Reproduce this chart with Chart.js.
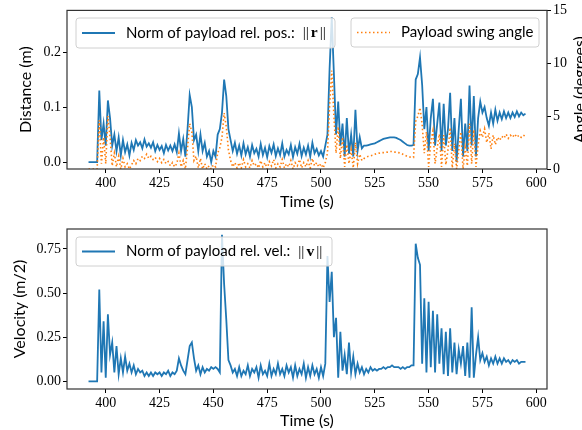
<!DOCTYPE html>
<html>
<head>
<meta charset="utf-8">
<script src="https://cdn.jsdelivr.net/npm/chart.js@4/dist/chart.umd.min.js"></script>
<style>
    html, body { margin: 0; padding: 0; background: #fff; }
    #figure { position: relative; width: 582px; height: 430px; overflow: hidden; background: #fff; }
    #figure canvas { position: absolute; left: 0; }
    #positionChart { top: 0; }
    #velocityChart { top: 215px; }
</style>
</head>
<body>
<div id="figure">
    <canvas id="positionChart" width="596" height="215"></canvas>
    <canvas id="velocityChart" width="596" height="215"></canvas>
</div>
<script>
// Log starts at t = 392 s, one sample per second
const startTime = 392;

// Norm of payload relative position (m)
const payloadDistance = [
    0, 0, 0, 0, 0, 0.13, 0.04, 0.07, 0.03, 0.112,
    0.08, 0.03, 0.05, 0.02, 0.045, 0.012, 0.04, 0.018, 0.032, 0.012,
    0.035, 0.022, 0.04, 0.03, 0.036, 0.025, 0.041, 0.028, 0.034, 0.026,
    0.036, 0.02, 0.031, 0.022, 0.029, 0.016, 0.031, 0.021, 0.03, 0.02,
    0.032, 0.018, 0.052, 0.02, 0.042, 0.01, 0.06, 0.122, 0.10, 0.04,
    0.05, 0.02, 0.05, 0.02, 0.035, 0.01, 0.02, 0.0, 0.02, 0.01,
    0.05, 0.06, 0.09, 0.15, 0.12, 0.06, 0.04, 0.02, 0.035, 0.015,
    0.03, 0.012, 0.034, 0.014, 0.027, 0.01, 0.031, 0.016, 0.024, 0.01,
    0.033, 0.013, 0.026, 0.009, 0.029, 0.017, 0.032, 0.011, 0.025, 0.013,
    0.034, 0.01, 0.022, 0.014, 0.031, 0.009, 0.027, 0.015, 0.033, 0.011,
    0.026, 0.014, 0.03, 0.01, 0.035, 0.016, 0.024, 0.012, 0.02, 0.01,
    0.03, 0.05, 0.17, 0.263, 0.16, 0.05, 0.11, 0.03, 0.07, 0.01,
    0.08, 0.015, 0.05, 0.01, 0.095, 0.02, 0.045, 0.025, 0.03, 0.03,
    0.031, 0.032, 0.033, 0.034, 0.036, 0.038, 0.04, 0.042, 0.043, 0.044,
    0.045, 0.045, 0.045, 0.044, 0.042, 0.04, 0.037, 0.034, 0.031, 0.03,
    0.03, 0.031, 0.15, 0.16, 0.19, 0.14, 0.06, 0.1, 0.02, 0.08,
    0.115, 0.03, 0.07, 0.108, 0.02, 0.106, 0.03, 0.06, 0.126, 0.02,
    0.08, 0.0, 0.06, 0.115, 0.01, 0.07, 0.02, 0.139, 0.03, 0.12,
    0.01, 0.08, 0.11, 0.09, 0.1, 0.08, 0.066, 0.09, 0.07, 0.095,
    0.075, 0.09, 0.078, 0.092, 0.08, 0.09, 0.08, 0.09, 0.082, 0.092,
    0.083, 0.09, 0.085, 0.088
];

// Payload swing angle (degrees)
const swingAngle = [
    0, 0, 0, 0, 0, 4.6, 0.5, 3.0, 0.5, 5.0,
    3.0, 0.3, 1.5, 0.2, 1.2, 0.0, 1.0, 0.2, 0.5, 0.0,
    0.4, 0.8, 0.5, 1.0, 0.8, 1.2, 1.0, 1.4, 1.0, 1.2,
    0.9, 1.1, 0.7, 1.0, 0.6, 0.9, 0.5, 0.7, 0.3, 0.6,
    0.2, 0.5, 1.5, 0.2, 0.8, 0.0, 2.0, 4.3, 3.5, 0.8,
    1.2, 0.1, 1.0, 0.0, 0.5, 0.0, 0.3, 0.0, 0.4, 0.2,
    1.5, 2.0, 3.0, 5.3, 4.0, 1.8, 0.8, 0.2, 0.6, 0.1,
    0.6, 0.1, 0.9, 0.2, 0.5, 0.1, 0.8, 0.3, 0.5, 0.1,
    0.8, 0.2, 0.6, 0.0, 0.7, 0.3, 0.9, 0.1, 0.5, 0.2,
    0.9, 0.1, 0.5, 0.2, 0.8, 0.0, 0.6, 0.3, 0.9, 0.1,
    0.6, 0.2, 0.8, 0.1, 1.0, 0.3, 0.6, 0.2, 0.5, 0.1,
    0.6, 1.5, 6.0, 9.3, 5.0, 1.5, 4.0, 1.0, 3.0, 0.2,
    2.3, 0.5, 1.8, 0.1, 2.5, 0.5, 1.4, 0.8, 1.0, 1.1,
    1.2, 1.25, 1.3, 1.4, 1.45, 1.5, 1.55, 1.55, 1.6, 1.6,
    1.65, 1.65, 1.6, 1.6, 1.55, 1.5, 1.4, 1.3, 1.2, 1.15,
    1.1, 1.1, 4.5, 5.0, 5.8, 4.2, 1.5, 3.5, 0.2, 2.5,
    3.6, 0.5, 2.0, 3.3, 0.2, 3.2, 0.4, 1.8, 3.9, 0.1,
    2.4, 0.0, 1.8, 3.5, 0.0, 2.0, 0.3, 4.3, 0.5, 3.7,
    0.2, 2.3, 3.6, 3.0, 3.8, 2.5, 3.4, 1.9, 3.2, 2.3,
    3.0, 2.7, 3.1, 2.9, 3.3, 2.9, 3.2, 3.0, 3.3, 3.0,
    3.2, 3.0, 3.2, 3.1
];

// Norm of payload relative velocity
const payloadVelocity = [
    0, 0, 0, 0, 0, 0.52, 0.05, 0.34, 0.02, 0.38,
    0.15, 0.22, 0.05, 0.20, 0.04, 0.13, 0.05, 0.14, 0.06, 0.10,
    0.05, 0.09, 0.04, 0.07, 0.05, 0.06, 0.03, 0.05, 0.03, 0.05,
    0.03, 0.05, 0.04, 0.05, 0.03, 0.05, 0.04, 0.06, 0.03, 0.05,
    0.04, 0.06, 0.13, 0.09, 0.06, 0.04, 0.12, 0.20, 0.22, 0.13,
    0.06, 0.09, 0.04, 0.08, 0.05, 0.07, 0.06, 0.08, 0.07, 0.08,
    0.07, 0.05, 0.83, 0.55, 0.35, 0.12, 0.09, 0.05, 0.07, 0.03,
    0.08, 0.03, 0.06, 0.04, 0.09, 0.03, 0.07, 0.05, 0.08, 0.02,
    0.09, 0.04, 0.06, 0.03, 0.10, 0.03, 0.07, 0.04, 0.10, 0.04,
    0.07, 0.03, 0.09, 0.05, 0.08, 0.02, 0.09, 0.03, 0.07, 0.04,
    0.10, 0.02, 0.08, 0.03, 0.09, 0.04, 0.07, 0.02, 0.08, 0.03,
    0.10, 0.71, 0.45, 0.62, 0.25, 0.36, 0.02, 0.28, 0.06, 0.15,
    0.04, 0.22, 0.05, 0.14, 0.04, 0.10, 0.05, 0.08, 0.04, 0.07,
    0.05, 0.08, 0.06, 0.07, 0.06, 0.07, 0.07, 0.08, 0.07, 0.08,
    0.08, 0.09, 0.08, 0.08, 0.08, 0.07, 0.08, 0.07, 0.08, 0.08,
    0.09, 0.09, 0.78, 0.70, 0.66, 0.10, 0.47, 0.05, 0.45, 0.08,
    0.40, 0.05, 0.38, 0.10, 0.30, 0.04, 0.28, 0.03, 0.30, 0.05,
    0.22, 0.04, 0.18, 0.10, 0.20, 0.03, 0.22, 0.02, 0.42, 0.02,
    0.15, 0.25, 0.12, 0.16, 0.11, 0.14, 0.09, 0.13, 0.10, 0.14,
    0.10, 0.13, 0.10, 0.13, 0.11, 0.12, 0.10, 0.12, 0.11, 0.12,
    0.10, 0.11, 0.11, 0.11
];

// Tick labels
const timeTicks = [400, 425, 450, 475, 500, 525, 550, 575, 600];
const distanceTicks = [0.0, 0.1, 0.2];
const angleTicks = [0, 5, 10, 15];
const velocityTicks = [0.00, 0.25, 0.50, 0.75];

const BLUE = '#1f77b4';
const ORANGE = '#ff7f0e';
const SANS = 'Lato, "Open Sans", sans-serif';
const SERIF = '"Liberation Serif", "DejaVu Serif", serif';

document.addEventListener('DOMContentLoaded', function () {
    initializeFigure();
});

/**
 * Build both panels
 */
function initializeFigure() {
    if (typeof Chart === 'undefined') {
        console.warn('Chart.js not loaded');
        return;
    }
    Chart.register(axesFramePlugin, legendBoxesPlugin, sideTitlePlugin);
    initializePositionChart();
    initializeVelocityChart();
}

/**
 * Pair each sample with its time stamp
 */
function toPoints(values) {
    return values.map((v, i) => ({ x: startTime + i, y: v }));
}

/**
 * Frame around the plot area (all four spines)
 */
const axesFramePlugin = {
    id: 'axesFrame',
    afterDraw(chart) {
        const { ctx, chartArea } = chart;
        ctx.save();
        ctx.strokeStyle = '#333';
        ctx.lineWidth = 1.2;
        ctx.strokeRect(chartArea.left, chartArea.top,
            chartArea.right - chartArea.left, chartArea.bottom - chartArea.top);
        ctx.restore();
    }
};

/**
 * Separate legend boxes, one per dataset, drawn over the lines
 */
const legendBoxesPlugin = {
    id: 'legendBoxes',
    afterDatasetsDraw(chart, args, opts) {
        if (!opts.boxes) return;
        const ctx = chart.ctx;
        opts.boxes.forEach(box => {
            const ds = chart.data.datasets[box.dataset];
            const midY = box.top + box.height / 2;

            ctx.save();
            roundedRect(ctx, box.left, box.top, box.width, box.height, 3);
            ctx.fillStyle = 'rgba(255, 255, 255, 0.8)';
            ctx.fill();
            ctx.strokeStyle = '#d0d0d0';
            ctx.lineWidth = 1;
            ctx.stroke();

            // line sample
            ctx.beginPath();
            ctx.setLineDash(ds.borderDash || []);
            ctx.strokeStyle = ds.borderColor;
            ctx.lineWidth = ds.borderWidth;
            ctx.moveTo(box.left + 6, midY);
            ctx.lineTo(box.left + 39, midY);
            ctx.stroke();
            ctx.setLineDash([]);

            // label, with the norm symbol in math type
            ctx.fillStyle = '#000';
            ctx.textBaseline = 'middle';
            let x = box.left + 50;
            ctx.font = '15px ' + SANS;
            ctx.fillText(ds.label, x, midY);
            if (ds.normOf) {
                x += ctx.measureText(ds.label).width + 8;
                ctx.font = '15.5px ' + SERIF;
                ctx.fillText('||', x, midY);
                x += ctx.measureText('||').width + 2;
                ctx.font = 'bold 15.5px ' + SERIF;
                ctx.fillText(ds.normOf, x, midY);
                x += ctx.measureText(ds.normOf).width + 2;
                ctx.font = '15.5px ' + SERIF;
                ctx.fillText('||', x, midY);
            }
            ctx.restore();
        });
    }
};

/**
 * Right-hand axis title, reading bottom to top
 */
const sideTitlePlugin = {
    id: 'sideTitle',
    afterDraw(chart, args, opts) {
        if (!opts.text) return;
        const { ctx, chartArea } = chart;
        ctx.save();
        ctx.translate(opts.x, (chartArea.top + chartArea.bottom) / 2);
        ctx.rotate(-Math.PI / 2);
        ctx.font = '16px ' + SANS;
        ctx.fillStyle = '#000';
        ctx.textAlign = 'center';
        ctx.textBaseline = 'middle';
        ctx.fillText(opts.text, 0, 0);
        ctx.restore();
    }
};

function roundedRect(ctx, x, y, w, h, r) {
    ctx.beginPath();
    ctx.moveTo(x + r, y);
    ctx.lineTo(x + w - r, y);
    ctx.arcTo(x + w, y, x + w, y + r, r);
    ctx.lineTo(x + w, y + h - r);
    ctx.arcTo(x + w, y + h, x + w - r, y + h, r);
    ctx.lineTo(x + r, y + h);
    ctx.arcTo(x, y + h, x, y + h - r, r);
    ctx.lineTo(x, y + r);
    ctx.arcTo(x, y, x + r, y, r);
    ctx.closePath();
}

/**
 * Shared axis options
 */
function axisOptions(ticks, decimals, extra) {
    return Object.assign({
        type: 'linear',
        grid: { drawOnChartArea: false, drawTicks: true, tickLength: 4, color: '#000' },
        border: { display: false },
        afterBuildTicks: scale => { scale.ticks = ticks.map(v => ({ value: v })); },
        ticks: {
            color: '#000',
            padding: 2,
            font: { family: SERIF, size: 14 },
            callback: value => value.toFixed(decimals)
        }
    }, extra);
}

function axisTitle(text, padding) {
    return { display: true, text: text, color: '#000', font: { family: SANS, size: 16 }, padding: padding };
}

/**
 * Top panel: payload distance and swing angle
 */
function initializePositionChart() {
    const ctx = document.getElementById('positionChart').getContext('2d');
    new Chart(ctx, {
        type: 'line',
        data: {
            datasets: [
                {
                    label: 'Norm of payload rel. pos.:',
                    normOf: 'r',
                    data: toPoints(payloadDistance),
                    yAxisID: 'y',
                    borderColor: BLUE,
                    borderWidth: 1.8,
                    pointRadius: 0,
                    tension: 0,
                    order: 1
                },
                {
                    label: 'Payload swing angle',
                    data: toPoints(swingAngle),
                    yAxisID: 'y1',
                    borderColor: ORANGE,
                    borderWidth: 1.6,
                    borderDash: [1.5, 2.5],
                    pointRadius: 0,
                    tension: 0,
                    order: 0
                }
            ]
        },
        options: {
            responsive: false,
            animation: false,
            events: [],
            layout: { padding: { top: 9, left: 0, right: 0, bottom: 0 } },
            plugins: {
                legend: { display: false },
                tooltip: { enabled: false },
                legendBoxes: {
                    boxes: [
                        { dataset: 0, left: 76, top: 18, width: 259, height: 30 },
                        { dataset: 1, left: 351, top: 18, width: 188, height: 29 }
                    ]
                },
                sideTitle: { text: 'Angle (degrees)', x: 580 }
            },
            scales: {
                x: axisOptions(timeTicks, 0, {
                    min: 382,
                    max: 605,
                    title: axisTitle('Time (s)', { top: 0, bottom: 4 }),
                    afterFit: scale => { scale.height = 46; }
                }),
                y: axisOptions(distanceTicks, 1, {
                    position: 'left',
                    min: -0.0126,
                    max: 0.2757,
                    title: axisTitle('Distance (m)', { top: 16, bottom: 0 }),
                    afterFit: scale => { scale.width = 67; }
                }),
                y1: axisOptions(angleTicks, 0, {
                    position: 'right',
                    min: 0,
                    max: 15,
                    afterFit: scale => { scale.width = 49; }
                })
            }
        }
    });
}

/**
 * Bottom panel: payload velocity
 */
function initializeVelocityChart() {
    const ctx = document.getElementById('velocityChart').getContext('2d');
    new Chart(ctx, {
        type: 'line',
        data: {
            datasets: [
                {
                    label: 'Norm of payload rel. vel.:',
                    normOf: 'v',
                    data: toPoints(payloadVelocity),
                    borderColor: BLUE,
                    borderWidth: 1.8,
                    pointRadius: 0,
                    tension: 0
                }
            ]
        },
        options: {
            responsive: false,
            animation: false,
            events: [],
            layout: { padding: { top: 14, left: 0, right: 49, bottom: 0 } },
            plugins: {
                legend: { display: false },
                tooltip: { enabled: false },
                legendBoxes: {
                    boxes: [
                        { dataset: 0, left: 76, top: 22, width: 256, height: 29 }
                    ]
                }
            },
            scales: {
                x: axisOptions(timeTicks, 0, {
                    min: 382,
                    max: 605,
                    title: axisTitle('Time (s)', { top: 0, bottom: 0 }),
                    afterFit: scale => { scale.height = 41; }
                }),
                y: axisOptions(velocityTicks, 2, {
                    position: 'left',
                    min: -0.0437,
                    max: 0.863,
                    title: axisTitle('Velocity (m/2)', { top: 10, bottom: 0 }),
                    afterFit: scale => { scale.width = 67; }
                })
            }
        }
    });
}
</script>
</body>
</html>
